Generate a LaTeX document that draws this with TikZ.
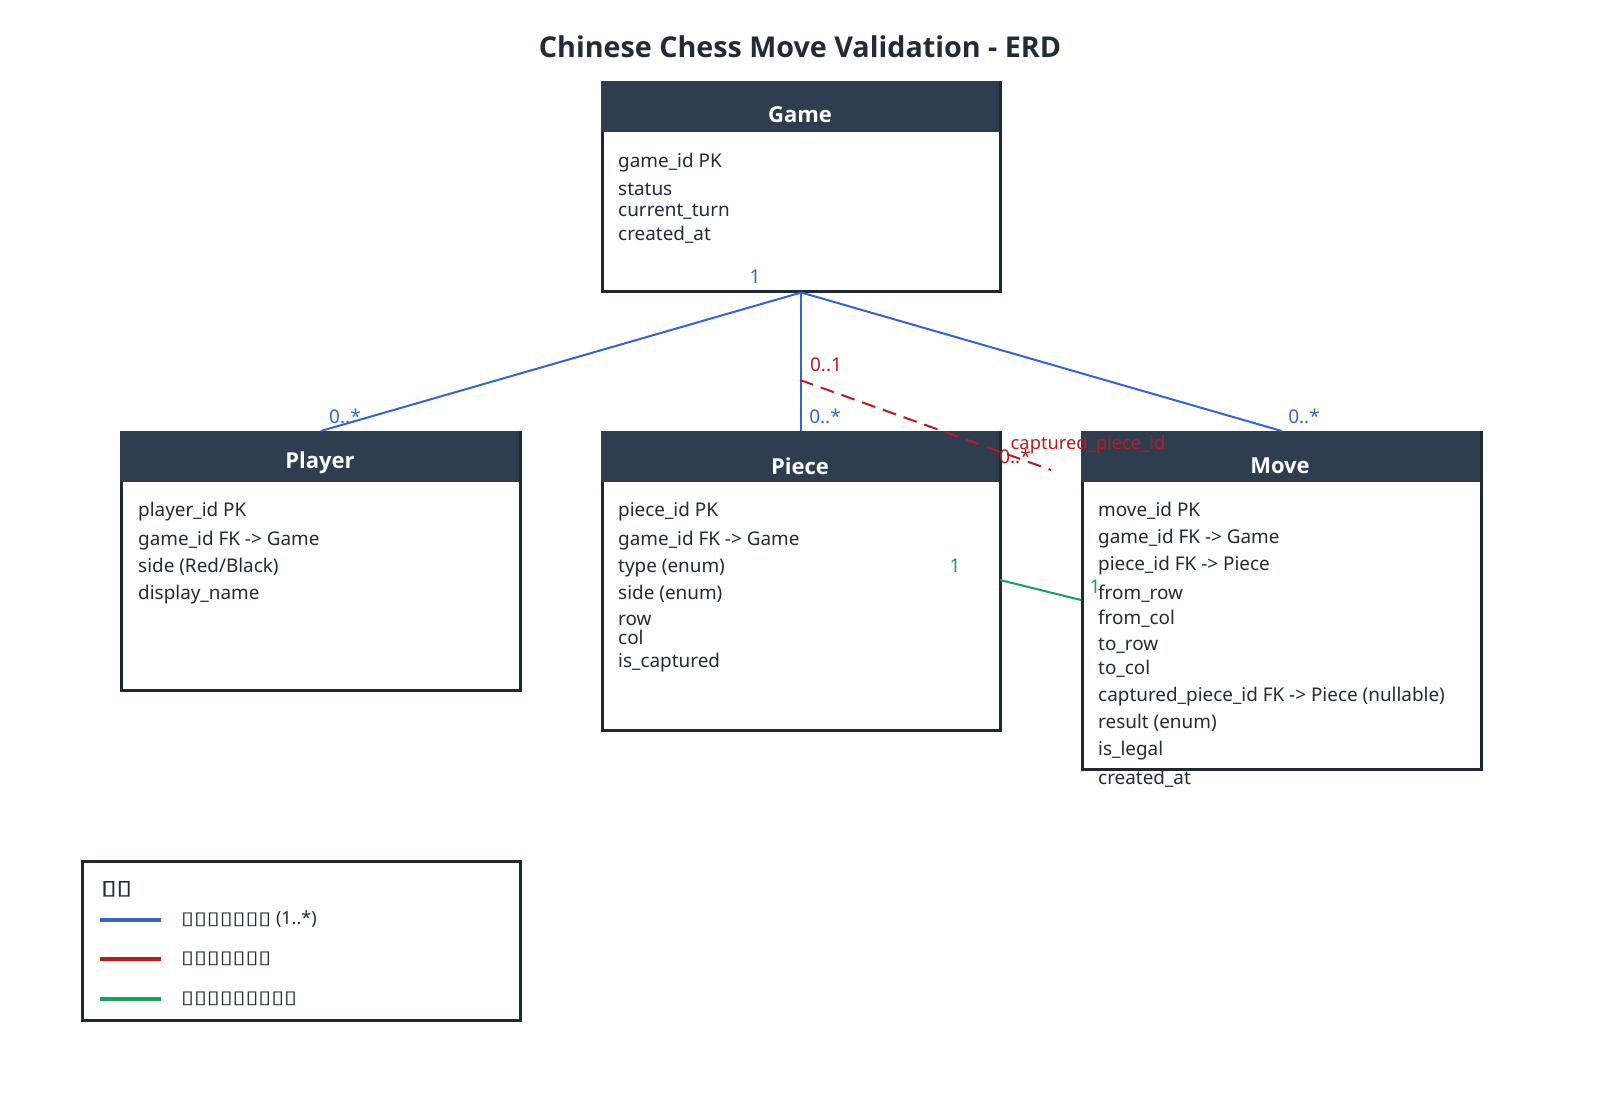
\documentclass[tikz,border=0pt]{standalone}
\usepackage{fontspec}
\setmainfont{Noto Sans}
\newfontfamily\bfont{Open Sans}
\newfontfamily\boxfont{DejaVu Sans}[FakeStretch=1.3]
\newfontfamily\boxbfont{DejaVu Sans}[FakeStretch=1.4,FakeBold=1.5]
\definecolor{bordc}{HTML}{1F2933}
\definecolor{hdrc}{HTML}{2E3E50}
\definecolor{txtc}{HTML}{222B36}
\definecolor{relblue}{HTML}{3366CC}
\definecolor{relred}{HTML}{B91C1C}
\definecolor{relgreen}{HTML}{16A05A}
\tikzset{
  ent/.style={draw=bordc, line width=2.5pt, fill=white, inner sep=0pt, anchor=north west},
  hdr/.style={fill=hdrc, inner sep=0pt, anchor=north west, minimum height=51pt},
  hdrtxt/.style={text=white, inner sep=0pt, font=\bfont\bfseries\fontsize{22}{24}\selectfont},
  attr/.style={anchor=base west, inner sep=0pt, text=txtc, font=\fontsize{18.9}{20}\selectfont},
  lbl/.style={inner sep=0pt, font=\fontsize{19}{20}\selectfont},
  rel/.style={line width=2pt},
  legline/.style={line width=4pt},
  legtxt/.style={anchor=base west, inner sep=0pt, text=txtc, font=\fontsize{18}{20}\selectfont}
}
\begin{document}
\begin{tikzpicture}[x=1pt,y=-1pt]
\useasboundingbox[fill=white] (0,0) rectangle (1600,1100);

\node[inner sep=0pt, text=txtc, font=\bfont\bfseries\fontsize{28.7}{30}\selectfont] (title) at (800,47) {Chinese Chess Move Validation - ERD};

% Game
\node[ent, minimum width=398pt, minimum height=209pt] (game) at (601,81) {};
\node[hdr, minimum width=398pt] (gameh) at (601,81) {};
\node[hdrtxt] (gamet) at (800,115) {Game};
\node[attr] (g1) at (618,167) {game\_id PK};
\node[attr] (g2) at (618,195) {status};
\node[attr] (g3) at (618,216) {current\_turn};
\node[attr] (g4) at (618,240) {created\_at};

% Player
\node[ent, minimum width=399pt, minimum height=258pt] (player) at (120,431) {};
\node[hdr, minimum width=399pt] (playerh) at (120,431) {};
\node[hdrtxt] (playert) at (320,463) {Player};
\node[attr] (p1) at (138,516) {player\_id PK};
\node[attr] (p2) at (138,545) {game\_id FK -> Game};
\node[attr] (p3) at (138,572) {side (Red/Black)};
\node[attr] (p4) at (138,599) {display\_name};

% Piece
\node[ent, minimum width=398pt, minimum height=298pt] (piece) at (601,431) {};
\node[hdr, minimum width=398pt] (pieceh) at (601,431) {};
\node[hdrtxt] (piecet) at (800,466) {Piece};
\node[attr] (c1) at (618,516) {piece\_id PK};
\node[attr] (c2) at (618,545) {game\_id FK -> Game};
\node[attr] (c3) at (618,572) {type (enum)};
\node[attr] (c4) at (618,599) {side (enum)};
\node[attr] (c5) at (618,625) {row};
\node[attr] (c6) at (618,644) {col};
\node[attr] (c7) at (618,667) {is\_captured};

% Move
\node[ent, minimum width=399pt, minimum height=337pt] (move) at (1081,431) {};
\node[hdr, minimum width=399pt] (moveh) at (1081,431) {};
\node[hdrtxt] (movet) at (1280,466) {Move};
\node[attr] (m1) at (1098,516) {move\_id PK};
\node[attr] (m2) at (1098,543) {game\_id FK -> Game};
\node[attr] (m3) at (1098,570) {piece\_id FK -> Piece};
\node[attr] (m4) at (1098,599) {from\_row};
\node[attr] (m5) at (1098,624) {from\_col};
\node[attr] (m6) at (1098,650) {to\_row};
\node[attr] (m7) at (1098,674) {to\_col};
\node[attr] (m8) at (1098,701) {captured\_piece\_id FK -> Piece (nullable)};
\node[attr] (m9) at (1098,728) {result (enum)};
\node[attr] (m10) at (1098,755) {is\_legal};
\node[attr] (m11) at (1098,784) {created\_at};

% Relationships
\draw[rel, relblue] (game.south) -- (player.north);
\draw[rel, relblue] (game.south) -- (piece.north);
\draw[rel, relblue] (game.south) -- (move.north);
\node[lbl, text=relblue] (l1) at (755,277) {1};
\node[lbl, text=relblue] (l2) at (345,416) {0..*};
\node[lbl, text=relblue] (l3) at (825,416) {0..*};
\node[lbl, text=relblue] (l4) at (1304,416) {0..*};

\coordinate (capA) at (800,380);
\coordinate (capB) at (1051,470);
\draw[rel, relred, dash pattern=on 14pt off 8pt] (capA) -- (capB);
\node[lbl, text=relred] (r1) at (826,365) {0..1};
\node[lbl, text=relred] (r2) at (1015,456) {0..*};
\node[inner sep=0pt, text=relred, font=\fontsize{18.3}{20}\selectfont] (r3) at (1088,445) {captured\_piece\_id};

\coordinate (pmA) at (1000,580);
\coordinate (pmB) at (1081,600);
\draw[rel, relgreen] (pmA) -- (pmB);
\node[lbl, text=relgreen] (e1) at (955,566) {1};
\node[lbl, text=relgreen] (e2) at (1095,587) {1};

% Legend
\node[ent, minimum width=438pt, minimum height=159pt] (legend) at (81,860) {};
\node[anchor=base west, inner sep=0pt, text=txtc, font=\boxbfont\fontsize{20}{22}\selectfont] (legt) at (101,894) {▯▯};
\coordinate (la1) at (100,920); \coordinate (lb1) at (161,920);
\coordinate (la2) at (100,959); \coordinate (lb2) at (161,959);
\coordinate (la3) at (100,999); \coordinate (lb3) at (161,999);
\draw[legline, relblue] (la1) -- (lb1);
\draw[legline, relred] (la2) -- (lb2);
\draw[legline, relgreen] (la3) -- (lb3);
\node[legtxt] (lt1) at (181,924) {{\boxfont ▯▯▯▯▯▯▯} (1..*)};
\node[legtxt] (lt2) at (181,963) {{\boxfont ▯▯▯▯▯▯▯}};
\node[legtxt] (lt3) at (181,1003) {{\boxfont ▯▯▯▯▯▯▯▯▯}};
\end{tikzpicture}
\end{document}
